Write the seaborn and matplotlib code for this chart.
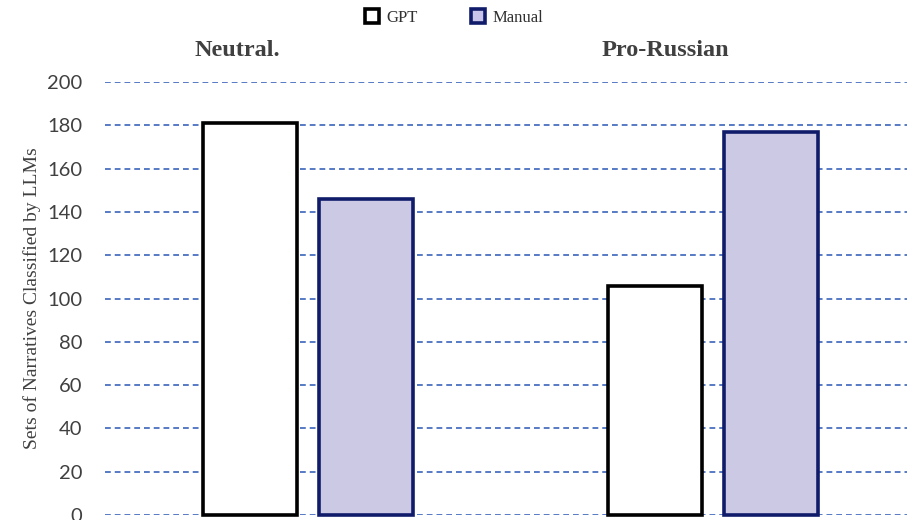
import matplotlib
matplotlib.use("Agg")
import matplotlib.pyplot as plt
from matplotlib.lines import Line2D
import pandas as pd
import seaborn as sns

categories = ["Neutral.", "Pro-Russian"]
gpt_counts = [181, 106]
manual_counts = [146, 177]
series_names = ["GPT", "Manual"]
y_ticks = [0, 20, 40, 60, 80, 100, 120, 140, 160, 180, 200]

df = pd.DataFrame({
    "category": categories * 2,
    "source": [series_names[0]] * len(categories) + [series_names[1]] * len(categories),
    "count": gpt_counts + manual_counts,
})

sns.set_theme(style="white")
plt.rcParams["font.family"] = ["Lato", "DejaVu Sans"]

fig = plt.figure(figsize=(9.07, 5.2), dpi=100)
ax = fig.add_axes([0.116, 0.0096, 0.884, 0.8327])

fills = {"GPT": "white", "Manual": "#c9c4e9"}
edges = {"GPT": "black", "Manual": "#101c6a"}

sns.barplot(data=df, x="category", y="count", hue="source",
            palette=fills, width=0.573, gap=0.19, ax=ax, legend=False,
            zorder=3)

for patch, src in zip(ax.patches, [series_names[0]] * 2 + [series_names[1]] * 2):
    patch.set_edgecolor(edges[src])
    patch.set_linewidth(2.6)
    patch.set_clip_on(False)

ax.set_ylim(0, 200)
ax.set_xlim(-0.5, 1.48)
ax.set_yticks(y_ticks)
ax.yaxis.grid(True, linestyle=(0, (3.2, 2.2)), color="#4a6fc0", linewidth=1.3, zorder=0)
ax.xaxis.grid(False)
for s in ax.spines.values():
    s.set_visible(False)

ax.set_xticks([])
ax.tick_params(axis="y", length=0, pad=16.5, labelsize=14.5, labelcolor="#404040")
ax.set_xlabel("")
ax.set_ylabel("Sets of Narratives Classified by LLMs", family="Liberation Serif",
              fontsize=14, color="#404040", labelpad=4)

# category headings sit above the plot, shifted left of the group centres
for i, (name, shift) in enumerate(zip(categories, [-0.174, -0.117])):
    ax.text(i + shift, 1.073, name, transform=ax.get_xaxis_transform(),
            ha="center", va="center", family="Liberation Serif",
            fontweight="bold", fontsize=17.5, color="#404040")

handles = [
    Line2D([0], [0], marker="s", linestyle="none", markersize=10.5,
           markerfacecolor=fills[n], markeredgecolor=edges[n], markeredgewidth=2.6)
    for n in series_names
]
fig.legend(handles, series_names, loc="center", bbox_to_anchor=(0.499, 0.966),
           ncol=2, frameon=False, handletextpad=0.3, columnspacing=3.0,
           handlelength=1.2, labelcolor="#303030",
           prop={"family": "Liberation Serif", "size": 12})

fig.savefig("out.png", dpi=100, facecolor="white")
